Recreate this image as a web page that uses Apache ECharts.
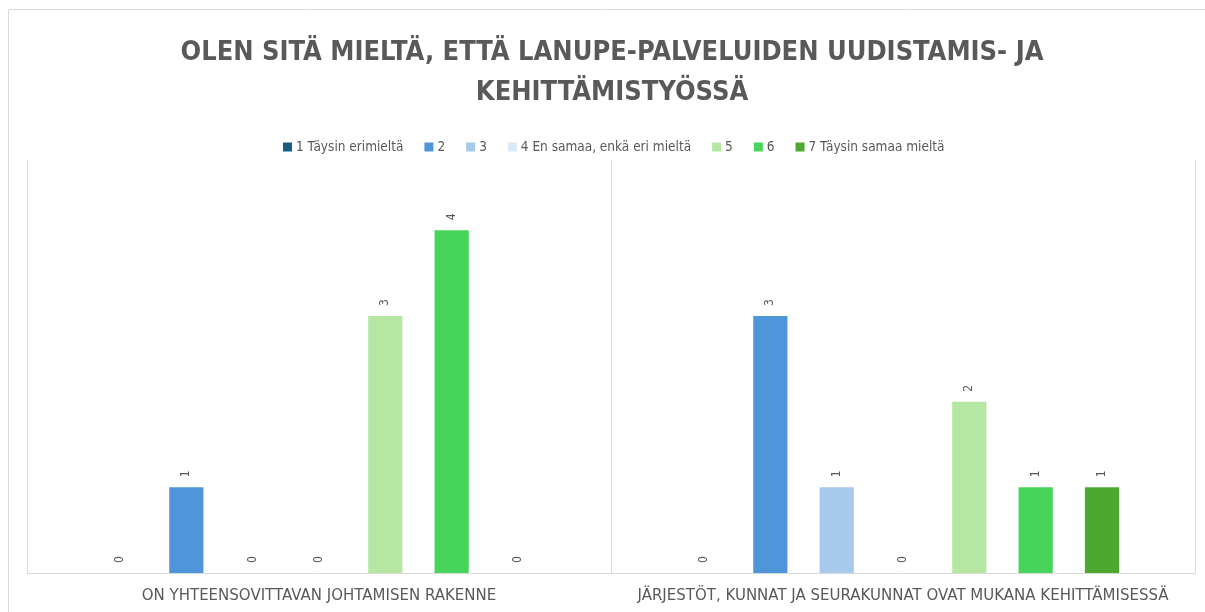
<!DOCTYPE html>
<html>
<head>
<meta charset="utf-8">
<script src="https://cdn.jsdelivr.net/npm/echarts@6/dist/echarts.min.js"></script>
<style>
  html, body { margin: 0; padding: 0; background: #fff; }
  #chart { width: 1205px; height: 612px; }
</style>
</head>
<body>
<div id="chart"></div>
<script>
// kysymykset (x-akseli)
const categories = [
  "ON YHTEENSOVITTAVAN JOHTAMISEN RAKENNE",
  "JÄRJESTÖT, KUNNAT JA SEURAKUNNAT OVAT MUKANA KEHITTÄMISESSÄ"
];
// vastausvaihtoehdot
const seriesNames = [
  "1 Täysin erimieltä", "2", "3", "4 En samaa, enkä eri mieltä",
  "5", "6", "7 Täysin samaa mieltä"
];
// vastausten määrät, yksi rivi per vaihtoehto
const answers1 = [0, 0];
const answers2 = [1, 3];
const answers3 = [0, 1];
const answers4 = [0, 0];
const answers5 = [3, 2];
const answers6 = [4, 1];
const answers7 = [0, 1];
const seriesValues = [answers1, answers2, answers3, answers4, answers5, answers6, answers7];
const colors = ["#156082", "#4e95d9", "#a6c9ec", "#dae9f8", "#b5e6a2", "#47d45a", "#4ea72e"];

const chart = echarts.init(document.getElementById("chart"));

const series = seriesNames.map((name, i) => {
  return {
    name: name,
    type: "bar",
    data: seriesValues[i],
    itemStyle: { color: colors[i] },
    barGap: "94%",
    barCategoryGap: "26%",
    label: {
      show: true,
      position: "top",
      rotate: 90,
      align: "left",
      verticalAlign: "middle",
      distance: 10,
      color: "#595959",
      fontSize: 12,
      fontFamily: "DejaVu Sans Condensed"
    }
  };
});

chart.setOption({
  animation: false,
  title: {
    text: "OLEN SITÄ MIELTÄ, ETTÄ LANUPE-PALVELUIDEN UUDISTAMIS- JA\nKEHITTÄMISTYÖSSÄ",
    left: 607,
    textAlign: "center",
    top: 28,
    textStyle: {
      fontFamily: "DejaVu Sans Condensed",
      fontWeight: "bold",
      fontSize: 27,
      lineHeight: 40,
      color: "#595959"
    }
  },
  legend: {
    top: 135,
    left: 278,
    itemWidth: 9,
    itemHeight: 9,
    itemGap: 21,
    icon: "rect",
    textStyle: {
      fontFamily: "DejaVu Sans Condensed",
      fontSize: 13.5,
      color: "#595959",
      padding: [0, 0, 0, -1]
    }
  },
  grid: { left: 27, right: 10, top: 160, bottom: 39 },
  xAxis: {
    type: "category",
    data: categories,
    axisLine: { lineStyle: { color: "#d9d9d9", width: 1 } },
    axisTick: { show: false },
    splitLine: { show: true, lineStyle: { color: "#d9d9d9", width: 1 } },
    axisLabel: {
      interval: 0,
      color: "#595959",
      fontFamily: "DejaVu Sans",
      fontSize: 15,
      margin: 16
    }
  },
  yAxis: {
    type: "value",
    min: 0,
    max: 4.82,
    show: false,
    splitLine: { show: false }
  },
  graphic: [{
    type: "rect",
    shape: { x: 8.5, y: 9.5, width: 1300, height: 700 },
    style: { fill: null, stroke: "#d9d9d9", lineWidth: 1 },
    silent: true
  }],
  series: series
});
</script>
</body>
</html>
